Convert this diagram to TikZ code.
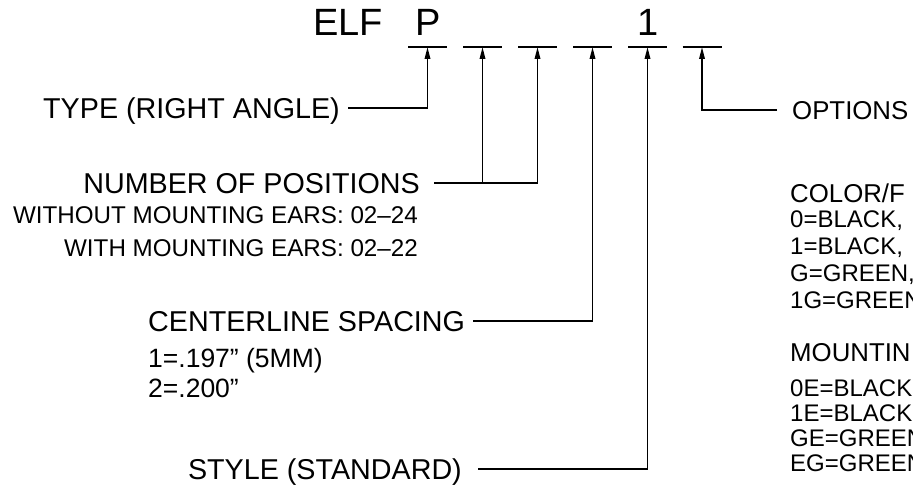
\documentclass[tikz,border=0pt]{standalone}
\usepackage{fontspec}
\setmainfont{Liberation Sans}
\usetikzlibrary{arrows.meta}
\begin{document}
\begin{tikzpicture}[x=1pt,y=-1pt,
  title/.style={font=\fontsize{38}{40}\selectfont, inner sep=0pt, text height=27.2pt, text depth=0pt},
  big/.style={font=\fontsize{28.7}{30}\selectfont, inner sep=0pt, text height=20.5pt, text depth=0pt},
  mid/.style={font=\fontsize{25.8}{28}\selectfont, inner sep=0pt, text height=18.5pt, text depth=0pt},
  small/.style={font=\fontsize{24.2}{26}\selectfont, inner sep=0pt, text height=17.3pt, text depth=0pt},
  spec/.style={font=\fontsize{26.5}{28}\selectfont, inner sep=0pt, text height=19pt, text depth=0pt},
  rsmall/.style={font=\fontsize{24}{26}\selectfont, inner sep=0pt, text height=17.2pt, text depth=0pt},
  slot/.style={line width=1.8pt},
  link/.style={line width=1.7pt, -{Triangle[length=12pt,width=5.5pt]}}]
\useasboundingbox (0,0) rectangle (913,487);
\clip (0,0) rectangle (913,487);
\fill[white] (0,0) rectangle (913,487);

% slots
\coordinate (d1) at (427.5,47);
\coordinate (d2) at (482.5,47);
\coordinate (d3) at (537.5,47);
\coordinate (d4) at (592.5,47);
\coordinate (d5) at (647.5,47);
\coordinate (d6) at (702,47);
\foreach \c in {d1,d2,d3,d4,d5,d6}{
  \draw[slot] ([xshift=-19.5pt]\c) -- ([xshift=19.5pt]\c);
}

% title
\node[title] (elf) at (348,22) {ELF};
\node[title] (tp) at (428,22) {P};
\node[title] (tone) at (648,22) {1};

% left labels
\node[big, anchor=east] (type) at (340,108) {TYPE (RIGHT ANGLE)};
\node[big, anchor=east] (npos) at (420,183) {NUMBER OF POSITIONS};
\node[small, anchor=east] (wo) at (418,215) {WITHOUT MOUNTING EARS: 02–24};
\node[small, anchor=east] (wi) at (418,248) {WITH MOUNTING EARS: 02–22};
\node[big, anchor=west] (cls) at (148,321) {CENTERLINE SPACING};
\node[spec, anchor=west] (c1) at (148,358) {1=.197” (5MM)};
\node[spec, anchor=west] (c2) at (148,388) {2=.200”};
\node[big, anchor=east] (sty) at (462,469) {STYLE (STANDARD)};

% right labels
\node[mid, anchor=west] (opt) at (792,110) {OPTIONS};
\node[mid, anchor=west] (col) at (790,193) {COLOR/F};
\node[rsmall, anchor=west] (o1) at (790,219) {0=BLACK,};
\node[rsmall, anchor=west] (o2) at (790,246) {1=BLACK,};
\node[rsmall, anchor=west] (o3) at (790,273) {G=GREEN,};
\node[rsmall, anchor=west] (o4) at (790,300) {1G=GREEN,};
\node[mid, anchor=west] (mnt) at (790,352) {MOUNTIN};
\node[rsmall, anchor=west] (m1) at (790,388) {0E=BLACK};
\node[rsmall, anchor=west] (m2) at (790,413) {1E=BLACK,};
\node[rsmall, anchor=west] (m3) at (790,438) {GE=GREEN};
\node[rsmall, anchor=west] (m4) at (790,463) {EG=GREEN};

% connectors
\draw[link] ([xshift=8pt]type.east) -| (d1);
\draw[link] ([xshift=14pt]npos.east) -| (d3);
\draw[link] (npos.east -| d2) -- (d2);
\draw[link] ([xshift=8pt]cls.east) -| (d4);
\draw[link] ([xshift=16pt]sty.east) -| (d5);
\draw[link] ([xshift=-15pt]opt.west) -| (d6);
\end{tikzpicture}
\end{document}
